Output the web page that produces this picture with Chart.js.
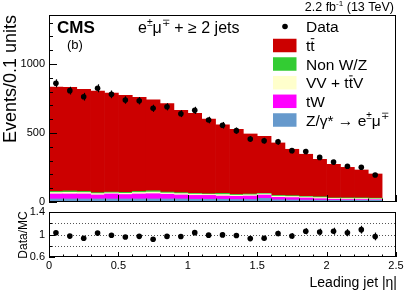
<!DOCTYPE html>
<html>
<head>
<meta charset="utf-8">
<script src="https://cdn.jsdelivr.net/npm/chart.js@4/dist/chart.umd.min.js"></script>
<style>
  html, body { margin: 0; padding: 0; background: #ffffff; }
  #wrap { position: relative; width: 407px; height: 292px; }
  canvas { position: absolute; left: 0; top: 0; }
</style>
</head>
<body>
<div id="wrap">
  <canvas id="top" width="407" height="292"></canvas>
  <canvas id="bot" width="407" height="292"></canvas>
</div>
<script>
// ---- data ----
const binCenters = [0.05,0.15,0.25,0.35,0.45,0.55,0.65,0.75,0.85,0.95,1.05,1.15,1.25,1.35,1.45,1.55,1.65,1.75,1.85,1.95,2.05,2.15,2.25,2.35];
const zgamma = [22,22,22,22,22,22,22,22,22,22,20,20,20,18,18,26,16,15,14,13,12,12,12,12];
const tW     = [36,36,36,29,36,32,36,38,34,29,28,28,23,23,25,24,18,17,15,11,8,6,6,5];
const vvttV  = [11,12,11,10,8,9,11,12,9,10,9,7,11,8,9,8,8,8,7,8,6,7,7,6];
const nonWZ  = [8,10,8,7,6,7,8,10,7,7,6,5,9,6,6,5,6,6,5,6,4,5,5,5];
const ttbar  = [756,751,740,736,718,703,682,659,642,596,580,541,497,472,435,413,380,336,305,271,243,221,202,175];
const dataVals = [860,807,763,824,780,739,734,679,690,640,664,594,556,517,457,444,436,372,366,323,289,259,252,196];
const dataErr  = [29,28,28,29,28,27,27,26,26,25,26,24,24,23,21,21,21,19,19,18,17,16,16,14];
const yTickLabels = ["0","500","1000"];
const rTickLabels = ["0.6","1","1.4"];
const xTickLabels = ["0","0.5","1","1.5","2","2.5"];

const FONT = '"Liberation Sans", Arial, Helvetica, sans-serif';
const COL = { tt: '#cc0000', nonwz: '#33cc33', vv: '#ffffcc', tw: '#ff00ff', zg: '#6699cc' };

function pts(arr){ return binCenters.map((x,i)=>({x:x, y:arr[i]})); }

// total MC and ratio derived from the arrays above
const mcTotal = binCenters.map((_,i)=>zgamma[i]+tW[i]+vvttV[i]+nonWZ[i]+ttbar[i]);
const ratio = dataVals.map((d,i)=>d/mcTotal[i]);
const ratioErr = dataErr.map((e,i)=>e/mcTotal[i]);

// rich text: parts = [[text, mode]] mode: '' | 'sup' | 'bar'
function rich(ctx, x, y, parts, size, align, weight){
  weight = weight || 'normal';
  let total = 0;
  const ws = parts.map(p=>{
    const s = p[1]==='sup' ? size*0.65 : size;
    ctx.font = weight + ' ' + s + 'px ' + FONT;
    const w = ctx.measureText(p[0]).width;
    total += w; return w;
  });
  let cx = align==='right' ? x-total : align==='center' ? x-total/2 : x;
  ctx.textAlign = 'left'; ctx.textBaseline = 'alphabetic'; ctx.fillStyle = '#000';
  parts.forEach((p,i)=>{
    const s = p[1]==='sup' ? size*0.65 : size;
    ctx.font = weight + ' ' + s + 'px ' + FONT;
    const yy = p[1]==='sup' ? y - size*0.42 : y;
    ctx.fillText(p[0], cx, yy);
    if (p[1]==='bar'){
      ctx.strokeStyle = '#000'; ctx.lineWidth = 1;
      ctx.beginPath(); ctx.moveTo(cx+0.5, y - size*0.80); ctx.lineTo(cx+ws[i]-0.3, y - size*0.80); ctx.stroke();
    }
    cx += ws[i];
  });
}

function hline(ctx,x1,x2,y){ ctx.beginPath(); ctx.moveTo(x1,y); ctx.lineTo(x2,y); ctx.stroke(); }
function vline(ctx,x,y1,y2){ ctx.beginPath(); ctx.moveTo(x,y1); ctx.lineTo(x,y2); ctx.stroke(); }

const topPlugin = {
  id: 'topdecor',
  afterDatasetsDraw(chart){
    const ctx = chart.ctx, xs = chart.scales.x, ys = chart.scales.y;
    ctx.save(); ctx.strokeStyle = '#000'; ctx.lineWidth = 1.2;
    binCenters.forEach((x,i)=>{
      const px = Math.round(xs.getPixelForValue(x))+0.5;
      vline(ctx, px, ys.getPixelForValue(dataVals[i]-dataErr[i]), ys.getPixelForValue(dataVals[i]+dataErr[i]));
    });
    ctx.restore();
  },
  afterDraw(chart){
    const ctx = chart.ctx, xs = chart.scales.x, ys = chart.scales.y, a = chart.chartArea;
    ctx.save();
    ctx.strokeStyle = '#000'; ctx.lineWidth = 1;
    // frame
    ctx.strokeRect(Math.round(a.left)+0.5, Math.round(a.top)+0.5, Math.round(a.right-a.left)-1, Math.round(a.bottom-a.top)-1);
    // y ticks
    for (let v=0; v<=1300; v+=100){
      const py = Math.round(ys.getPixelForValue(v))+0.5;
      hline(ctx, a.left, a.left + (v%500===0 ? 8 : 4), py);
    }
    // x ticks
    for (let k=0; k<=25; k++){
      const px = Math.round(xs.getPixelForValue(k/10))+0.5;
      vline(ctx, px, a.bottom, a.bottom - (k%5===0 ? 7 : 3.5));
    }
    // y tick labels
    ctx.fillStyle = '#000'; ctx.font = '11px ' + FONT; ctx.textAlign = 'right'; ctx.textBaseline = 'middle';
    yTickLabels.forEach(l=>{ ctx.fillText(l, 45, ys.getPixelForValue(parseFloat(l))); });
    // y title
    ctx.save(); ctx.translate(16, 15); ctx.rotate(-Math.PI/2);
    ctx.font = '18px ' + FONT; ctx.textAlign = 'right'; ctx.textBaseline = 'alphabetic';
    ctx.fillText('Events/0.1 units', 0, 0); ctx.restore();
    // top labels
    rich(ctx, 57, 33, [['CMS','']], 17, 'left', 'bold');
    rich(ctx, 67, 49, [['(b)','']], 13, 'left');
    rich(ctx, 138, 33, [['e',''],['\u00b1','sup'],['\u03bc',''],['\u2213','sup'],[' + \u2265 2 jets','']], 16, 'left');
    rich(ctx, 394, 11, [['2.2 fb',''],['-1','sup'],[' (13 TeV)','']], 12.5, 'right');
    // legend
    const lx = 273, lw = 23.5, lh = 13.5, tx = 306, ls = 15.5;
    ctx.fillStyle = '#000'; ctx.beginPath(); ctx.arc(285, 26.5, 2.8, 0, 2*Math.PI); ctx.fill();
    rich(ctx, tx, 26.5 + ls*0.36, [['Data','']], ls, 'left');
    const entries = [
      [COL.tt, 45.5, [['t',''],['t','bar']]],
      [COL.nonwz, 64, [['Non W/Z','']]],
      [COL.vv, 82.7, [['VV + t',''],['t','bar'],['V','']]],
      [COL.tw, 101.3, [['tW','']]],
      [COL.zg, 120, [['Z/\u03b3* \u2192 e',''],['\u00b1','sup'],['\u03bc',''],['\u2213','sup']]]
    ];
    entries.forEach(e=>{
      ctx.fillStyle = e[0]; ctx.fillRect(lx, e[1]-lh/2, lw, lh);
      rich(ctx, tx, e[1] + ls*0.36, e[2], ls, 'left');
    });
    ctx.restore();
  }
};

const botPlugin = {
  id: 'botdecor',
  beforeDatasetsDraw(chart){
    const ctx = chart.ctx, ys = chart.scales.y, a = chart.chartArea;
    ctx.save(); ctx.strokeStyle = '#555'; ctx.lineWidth = 1; ctx.setLineDash([1,2]);
    [0.8,1.0,1.2].forEach(v=>{ hline(ctx, a.left, a.right, Math.round(ys.getPixelForValue(v))+0.5); });
    ctx.restore();
    ctx.save(); ctx.strokeStyle = '#000'; ctx.lineWidth = 1.2;
    const xs = chart.scales.x;
    binCenters.forEach((x,i)=>{
      const px = Math.round(xs.getPixelForValue(x))+0.5;
      vline(ctx, px, ys.getPixelForValue(ratio[i]-ratioErr[i]), ys.getPixelForValue(ratio[i]+ratioErr[i]));
    });
    ctx.restore();
  },
  afterDraw(chart){
    const ctx = chart.ctx, xs = chart.scales.x, ys = chart.scales.y, a = chart.chartArea;
    ctx.save(); ctx.strokeStyle = '#000'; ctx.lineWidth = 1;
    ctx.strokeRect(Math.round(a.left)+0.5, Math.round(a.top)+0.5, Math.round(a.right-a.left)-1, Math.round(a.bottom-a.top)-1);
    [0.6,0.8,1.0,1.2,1.4].forEach((v,i)=>{
      const py = Math.round(ys.getPixelForValue(v))+0.5;
      hline(ctx, a.left, a.left + (i%2===0 ? 6 : 3), py);
    });
    for (let k=0; k<=25; k++){
      const px = Math.round(xs.getPixelForValue(k/10))+0.5;
      vline(ctx, px, a.bottom, a.bottom - (k%5===0 ? 5 : 2.5));
    }
    ctx.fillStyle = '#000'; ctx.font = '11px ' + FONT; ctx.textAlign = 'right'; ctx.textBaseline = 'middle';
    rTickLabels.forEach(l=>{ ctx.fillText(l, 45, ys.getPixelForValue(parseFloat(l))); });
    ctx.textAlign = 'center';
    xTickLabels.forEach(l=>{ ctx.fillText(l, xs.getPixelForValue(parseFloat(l)), 266); });
    ctx.save(); ctx.translate(27, 235); ctx.rotate(-Math.PI/2);
    ctx.font = '12px ' + FONT; ctx.textAlign = 'center'; ctx.textBaseline = 'alphabetic';
    ctx.fillText('Data/MC', 0, 0); ctx.restore();
    ctx.font = '14px ' + FONT; ctx.textAlign = 'right'; ctx.textBaseline = 'alphabetic';
    ctx.fillText('Leading jet |\u03b7|', 397, 287);
    ctx.restore();
  }
};

function barDs(label, arr, color){
  return { type:'bar', label, data: pts(arr), backgroundColor: color, borderWidth: 0,
           barPercentage: 1, categoryPercentage: 1, stack: 'mc', order: 1 };
}

new Chart(document.getElementById('top'), {
  type: 'bar',
  data: { datasets: [
    barDs('Z/\u03b3*', zgamma, COL.zg),
    barDs('tW', tW, COL.tw),
    barDs('VV + ttV', vvttV, COL.vv),
    barDs('Non W/Z', nonWZ, COL.nonwz),
    barDs('tt', ttbar, COL.tt),
    { type:'scatter', label:'Data', data: pts(dataVals), stack:'data', order: 0, backgroundColor:'#000', borderColor:'#000', pointRadius: 2.8, pointBorderWidth: 0 }
  ]},
  options: {
    responsive: false, animation: false, devicePixelRatio: 1,
    layout: { padding: { left: 49, right: 11, top: 15, bottom: 90 } },
    scales: {
      x: { type:'linear', min:0, max:2.5, offset:false, display:false, stacked:true },
      y: { min:0, max:1355, display:false, stacked:true }
    },
    plugins: { legend: { display:false }, tooltip: { enabled:false } }
  },
  plugins: [topPlugin]
});

new Chart(document.getElementById('bot'), {
  type: 'scatter',
  data: { datasets: [
    { label:'Data/MC', data: binCenters.map((x,i)=>({x, y: ratio[i]})), backgroundColor:'#000', borderColor:'#000', pointRadius: 2.8, pointBorderWidth: 0 }
  ]},
  options: {
    responsive: false, animation: false, devicePixelRatio: 1,
    layout: { padding: { left: 49, right: 11, top: 212, bottom: 35 } },
    scales: {
      x: { type:'linear', min:0, max:2.5, display:false },
      y: { min:0.6, max:1.4, display:false }
    },
    plugins: { legend: { display:false }, tooltip: { enabled:false } }
  },
  plugins: [botPlugin]
});
</script>
</body>
</html>
